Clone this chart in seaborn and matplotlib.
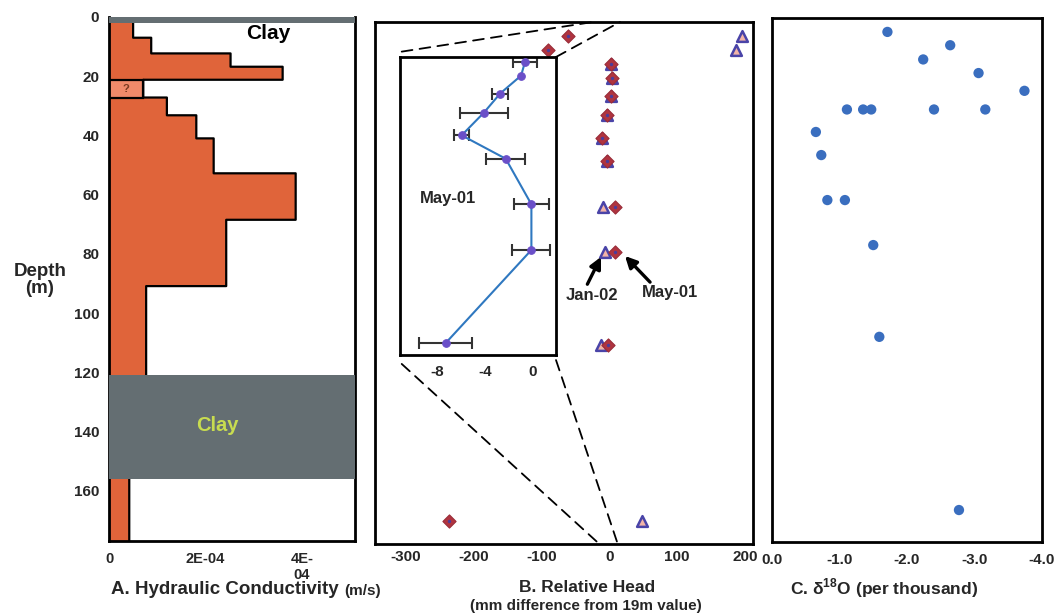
import numpy as np
import matplotlib
matplotlib.use('Agg')
import matplotlib.pyplot as plt
from matplotlib.patches import ConnectionPatch
import seaborn as sns

# A. hydraulic conductivity (m/s) for each depth interval (m)
layer_top = [2, 7, 12.3, 16.8, 21.2, 27.2, 33.2, 41, 52.8, 68.5, 90.9, 156]
layer_bottom = [7, 12.3, 16.8, 21.2, 27.2, 33.2, 41, 52.8, 68.5, 90.9, 121, 177]
layer_k = [0.5e-4, 0.875e-4, 2.52e-4, 3.6e-4, 0.71e-4, 1.2e-4, 1.81e-4,
           2.17e-4, 3.87e-4, 2.43e-4, 0.77e-4, 0.42e-4]
layer_uncertain = [False, False, False, False, True, False, False,
                   False, False, False, False, False]
clay_top = [0, 121]
clay_bottom = [2, 156]

# B. relative head (mm difference from 19m value)
head_depth = [4.7, 9.2, 14.0, 18.6, 24.6, 30.9, 38.5, 46.3, 61.5, 76.7, 107.7, 166.2]
head_may01 = [-61, -89.6, 2.8, 4.7, 2.8, -3.5, -10, -3.5, 8.7, 8.7, -1.2, -236]
head_jan02 = [196, 186.6, 2.8, 4.7, 2.8, -3.5, -10, -3.5, -9.4, -5.6, -12.4, 49]

# inset: May-01 detail with error bars
inset_depth = head_depth[2:11]
inset_head = [-0.64, -0.97, -2.72, -4.06, -5.92, -2.25, -0.11, -0.11, -7.25]
inset_err = [1.0, np.nan, 0.67, 2.0, 0.62, 1.62, 1.46, 1.58, 2.2]

# C. delta 18O (per thousand)
o18_depth = [4.7, 9.2, 14.0, 18.6, 24.6, 30.9, 30.9, 30.9, 30.9, 30.9,
             38.5, 46.3, 61.5, 61.5, 76.7, 107.7, 166.2]
o18_value = [-1.71, -2.64, -2.24, -3.06, -3.74, -1.11, -1.35, -1.47, -2.40, -3.16,
             -0.65, -0.73, -0.82, -1.08, -1.50, -1.59, -2.77]

sns.set_style('white')
plt.rcParams['font.family'] = ['Liberation Sans', 'DejaVu Sans']
plt.rcParams['font.weight'] = 'bold'
plt.rcParams['axes.unicode_minus'] = False
plt.rcParams['mathtext.fontset'] = 'custom'
plt.rcParams['mathtext.bf'] = 'Liberation Sans:bold'
plt.rcParams['mathtext.rm'] = 'Liberation Sans:bold'

W, H = 1058, 616
fig = plt.figure(figsize=(W / 100, H / 100), dpi=100)


def frame(ax, lw=2):
    for s in ax.spines.values():
        s.set_visible(True)
        s.set_linewidth(lw)
        s.set_color('black')


# ---------- Panel A ----------
ax_a = fig.add_axes([109 / W, 1 - 541 / H, 246 / W, 524 / H])
thick = np.subtract(layer_bottom, layer_top)
fills = ['#F08A6A' if u else '#E0643A' for u in layer_uncertain]
ax_a.barh(layer_top, layer_k, height=thick, left=0, align='edge',
          color=fills, edgecolor='none', zorder=2)
# step outline along the right edge of the profile
ax_a.plot(np.repeat(layer_k, 2), np.column_stack([layer_top, layer_bottom]).ravel(),
          color='black', lw=1.6, zorder=3)
unc = [i for i, u in enumerate(layer_uncertain) if u]
ax_a.barh([layer_top[i] for i in unc], [layer_k[i] for i in unc],
          height=[thick[i] for i in unc], left=0, align='edge',
          facecolor='none', edgecolor='black', lw=1.6, zorder=3)
for i in unc:
    ax_a.text(layer_k[i] / 2, (layer_top[i] + layer_bottom[i]) / 2, '?',
              ha='center', va='center', fontsize=8, color='#7A3A20', zorder=4)
for t, b in zip(clay_top, clay_bottom):
    ax_a.axhspan(t, b, color='#646E72', lw=0, zorder=5)
ax_a.text(3.31e-4, 5.6, 'Clay', ha='center', va='center', fontsize=15, color='black', zorder=6)
ax_a.text(2.25e-4, 138, 'Clay', ha='center', va='center', fontsize=14.5, color='#C8DC50', zorder=6)
ax_a.set_xlim(0, 5.1e-4)
ax_a.set_ylim(177, 0)
ax_a.set_xticks([0, 2e-4, 4e-4])
ax_a.set_xticklabels(['0', '2E-04', '4E-\n04'])
ax_a.set_xticks([1e-4, 3e-4], minor=True)
ax_a.set_yticks(range(0, 161, 20))
ax_a.tick_params(axis='x', which='both', direction='in', length=4, width=1.5, pad=8, labelsize=10.5)
ax_a.tick_params(axis='y', length=0, pad=7, labelsize=11)
frame(ax_a)
ax_a.spines['top'].set_visible(False)
ax_a.set_xlabel('')
ax_a.set_ylabel('')

# ---------- Panel B ----------
ax_b = fig.add_axes([375 / W, 1 - 544 / H, 378 / W, 522 / H])
sns.scatterplot(x=head_jan02, y=head_depth, ax=ax_b, marker='^', s=60,
                color='#F2B4A8', edgecolor='#4A44A8', linewidth=1.8, zorder=3)
sns.scatterplot(x=head_may01, y=head_depth, ax=ax_b, marker='D', s=45,
                color='#B0343F', edgecolor='#9A2C38', linewidth=0.8, zorder=4)
sns.scatterplot(x=head_may01, y=head_depth, ax=ax_b, marker='o', s=6,
                color='#4B3C9A', linewidth=0, zorder=5)
ax_b.set_xlim(-345, 212)
ax_b.set_ylim(174, 0)
ax_b.set_xticks(range(-300, 201, 100))
ax_b.set_yticks([])
ax_b.tick_params(axis='x', direction='in', length=3, width=1.5, pad=4, labelsize=11)
frame(ax_b)
ax_b.set_xlabel('')
ax_b.set_ylabel('')

ax_b.annotate('Jan-02', xy=(-12, 78.3), xytext=(-25.2, 91), ha='center', va='center',
              fontsize=12,
              arrowprops=dict(arrowstyle='-|>', color='black', lw=2.4, mutation_scale=17,
                              shrinkA=0, shrinkB=0, relpos=(0.38, 1.0)))
ax_b.annotate('May-01', xy=(23.4, 78), xytext=(89.8, 90.3), ha='center', va='center',
              fontsize=12,
              arrowprops=dict(arrowstyle='-|>', color='black', lw=2.4, mutation_scale=17,
                              shrinkA=0, shrinkB=0, relpos=(0.2, 1.0)))

# inset
ax_in = fig.add_axes([400 / W, 1 - 355 / H, 156 / W, 298 / H], zorder=10)
ax_in.set_facecolor('white')
err = np.array(inset_err)
ok = np.isfinite(err)
ax_in.errorbar(np.array(inset_head)[ok], np.array(inset_depth)[ok], xerr=err[ok],
               fmt='none', ecolor='#333333', elinewidth=1.5, capsize=4, capthick=1.5, zorder=2)
sns.lineplot(x=inset_head, y=inset_depth, ax=ax_in, sort=False, estimator=None,
             color='#2F78C0', lw=1.5, marker='o', markersize=5.5,
             markerfacecolor='#6A4FC8', markeredgecolor='#6A4FC8', zorder=3)
ax_in.text(-7.06, 59.4, 'May-01', ha='center', va='center', fontsize=12)
ax_in.set_xlim(-11.06, 1.94)
ax_in.set_ylim(111.7, 12.4)
ax_in.set_xticks([-8, -4, 0])
ax_in.set_yticks([])
ax_in.tick_params(axis='x', length=0, pad=7, labelsize=11)
frame(ax_in)
ax_in.set_xlabel('')
ax_in.set_ylabel('')

# dashed zoom lines from inset to the region near 0
for (xa, ya), (xb, yb) in [((0.011, 1.018), (-23.7, 0)), ((1.0, 1.0), (16, 0)),
                           ((0.011, -0.03), (-14.4, 174)), ((1.0, -0.017), (12.7, 174))]:
    con = ConnectionPatch(xyA=(xa, ya), coordsA=ax_in.transAxes, xyB=(xb, yb),
                          coordsB=ax_b.transData, ls=(0, (6, 4)), lw=1.3, color='black')
    fig.add_artist(con)

# ---------- Panel C ----------
ax_c = fig.add_axes([772 / W, 1 - 542 / H, 270 / W, 524 / H])
sns.scatterplot(x=o18_value, y=o18_depth, ax=ax_c, s=55, color='#3A6EBF',
                edgecolor='none', zorder=3)
ax_c.set_xlim(0, -4)
ax_c.set_ylim(177, 0)
ax_c.set_xticks([0, -1, -2, -3, -4])
ax_c.set_xticklabels(['0.0', '-1.0', '-2.0', '-3.0', '-4.0'])
ax_c.set_yticks([])
ax_c.tick_params(axis='x', direction='in', length=3, width=1.5, pad=8, labelsize=11)
frame(ax_c)
ax_c.set_xlabel('')
ax_c.set_ylabel('')

# ---------- labels ----------
fig.text(40 / W, 1 - 280 / H, 'Depth\n(m)', ha='center', va='center',
         fontsize=13.5, linespacing=0.95)
lab_a = fig.text(111 / W, 1 - 590 / H, 'A. Hydraulic Conductivity', ha='left',
                 va='center', fontsize=13.5)
ax_a.annotate('(m/s)', xy=(1, 0), xycoords=lab_a, xytext=(4, 0),
              textcoords='offset points', ha='left', va='bottom', fontsize=11,
              annotation_clip=False)
fig.text(587 / W, 1 - 588 / H, 'B. Relative Head', ha='center', va='center', fontsize=12.5)
fig.text(586 / W, 1 - 606 / H, '(mm difference from 19m value)', ha='center',
         va='center', fontsize=11)
fig.text(790 / W, 1 - 588 / H, r'C. δ$^{\mathbf{18}}$O (per thousand)', ha='left',
         va='center', fontsize=12.5)

fig.savefig('out.png', dpi=100)
